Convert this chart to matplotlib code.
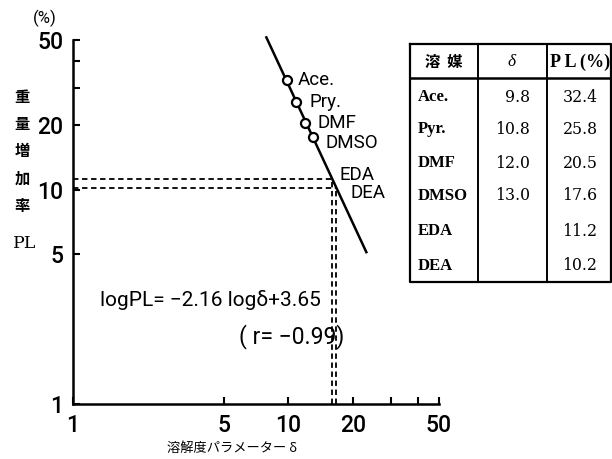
"""Weight gain PL vs. solubility parameter delta (log-log) with solvent table."""

import matplotlib
matplotlib.use("Agg")
import matplotlib.pyplot as plt
import numpy as np
from matplotlib.lines import Line2D
from matplotlib.ticker import FixedLocator, NullFormatter

# --- data -------------------------------------------------------------------
SOLVENTS = ["Ace.", "Pyr.", "DMF", "DMSO", "EDA", "DEA"]
DELTA = [9.8, 10.8, 12.0, 13.0]          # measured solubility parameters
PL = [32.4, 25.8, 20.5, 17.6, 11.2, 10.2]  # weight gain (%)
POINT_LABELS = ["Ace.", "Pry.", "DMF", "DMSO"]
SLOPE, INTERCEPT = -2.16, 3.65            # log PL = SLOPE log d + INTERCEPT
LINE_RANGE = [7.9, 23.0]                   # extent of the fitted line
AMINES_PL = PL[4:]                         # EDA, DEA (delta)
XTICKS = [1, 5, 10, 20, 50]
YTICKS = [1, 5, 10, 20, 50]
MINOR = [30, 40]

W, H = 612, 459


def fx(px):
    return px / W


def fy(py):
    return 1 - py / H


def fit(d):
    return 10 ** (SLOPE * np.log10(d) + INTERCEPT)


def inv_fit(p):
    return 10 ** ((np.log10(p) - INTERCEPT) / SLOPE)


fig = plt.figure(figsize=(W / 100, H / 100), dpi=100)
ax = fig.add_axes([fx(73), fy(404), fx(439) - fx(73), fy(40) - fy(404)])
ax.set_xscale("log")
ax.set_yscale("log")
ax.set_xlim(1, 50)
ax.set_ylim(1, 50)
for s in ("top", "right"):
    ax.spines[s].set_visible(False)
for s in ("left", "bottom"):
    ax.spines[s].set_linewidth(1.8)

ax.xaxis.set_major_locator(FixedLocator(XTICKS))
ax.yaxis.set_major_locator(FixedLocator(YTICKS))
ax.xaxis.set_minor_locator(FixedLocator(MINOR))
ax.yaxis.set_minor_locator(FixedLocator(MINOR))
ax.xaxis.set_minor_formatter(NullFormatter())
ax.yaxis.set_minor_formatter(NullFormatter())
ax.set_xticklabels([str(t) for t in XTICKS])
ax.set_yticklabels([str(t) for t in YTICKS])
ax.tick_params(which="both", direction="in", length=5, width=1.5, pad=7)
for lab in ax.get_xticklabels() + ax.get_yticklabels():
    lab.set_fontweight("medium")
    lab.set_family(["Roboto", "DejaVu Sans"])
ax.tick_params(labelsize=16.5)

# fitted line
xl = np.array(LINE_RANGE)
ax.plot(xl, fit(xl), color="black", lw=1.8, clip_on=False, zorder=3)

# measured points
ax.plot(DELTA, PL[:4], "o", ms=6.5, mfc="white", mec="black", mew=1.6, zorder=4)
offsets = [(8, 0), (10, 0), (9, 0), (9, -4)]
for d, p, lab, off in zip(DELTA, PL[:4], POINT_LABELS, offsets):
    ax.annotate(lab, (d, p), xytext=off, textcoords="offset points",
                ha="left", va="center", fontsize=13.5, family=["Roboto"])

# amines: dashed read-off lines
amine_offsets = [(5, 3), (10, -4)]
for p, lab, off in zip(AMINES_PL, SOLVENTS[4:], amine_offsets):
    d = inv_fit(p)
    ax.plot([1, d], [p, p], color="black", lw=1.3, ls=(0, (3, 2)))
    ax.plot([d, d], [1, p], color="black", lw=1.3, ls=(0, (3, 2)))
    ax.annotate(lab, (d, p), xytext=off, textcoords="offset points",
                ha="left", va="center", fontsize=13.5, family=["Roboto"])

fig.text(fx(100), fy(300), "logPL= \u22122.16 log\u03b4+3.65", fontsize=15,
         ha="left", va="center", family=["Roboto", "DejaVu Sans"])
fig.text(fx(344), fy(337), "( r= \u22120.99)", fontsize=16.5, ha="right",
         va="center", family=["Roboto", "DejaVu Sans"])

# axis labels
fig.text(fx(45), fy(18), "(%)", fontsize=12, ha="center", va="center",
         family=["Roboto", "DejaVu Sans"])
for ch, py in zip("重量増加率", [97, 124, 151, 179, 206]):
    fig.text(fx(22), fy(py), ch, fontsize=11, ha="center", va="center",
             family=["Noto Sans CJK JP"], weight="bold")
fig.text(fx(25), fy(243), "PL", fontsize=12.5, ha="center", va="center",
         family=["DejaVu Serif"])
fig.text(fx(232), fy(448), "溶解度パラメーター δ", fontsize=9.5, ha="center",
         va="center", family=["Noto Sans CJK JP", "DejaVu Serif"])

# --- table ------------------------------------------------------------------
left, right, top, bottom = 410, 611, 44, 282
col1, col2, head = 478, 547, 78
lines = [
    ([left, right, right, left, left], [top, top, bottom, bottom, top], 1.6),
    ([col1, col1], [top, bottom], 1.4),
    ([col2, col2], [top, bottom], 1.4),
    ([left, right], [head, head], 1.8),
]
for xs, ys, lw in lines:
    fig.add_artist(Line2D([fx(v) for v in xs], [fy(v) for v in ys],
                          color="black", lw=lw))

names = ["Liberation Serif", "DejaVu Serif"]
nums = ["DejaVu Serif"]
fig.text(fx(444), fy(62), "溶  媒", fontsize=11, ha="center", va="center",
         family=["Noto Sans CJK JP"], weight="bold")
fig.text(fx(512), fy(62), "δ", fontsize=12.5, ha="center", va="center",
         family=names, style="italic")
fig.text(fx(580), fy(62), "P L (%)", fontsize=13, ha="center", va="center",
         family=names, weight="bold")
row_y = [97, 129, 163, 196, 231, 266]
for i, (name, y) in enumerate(zip(SOLVENTS, row_y)):
    fig.text(fx(418), fy(y), name, fontsize=12, ha="left", va="center",
             family=names, weight="bold")
    if i < len(DELTA):
        fig.text(fx(530), fy(y), f"{DELTA[i]:.1f}", fontsize=11.3, ha="right",
                 va="center", family=nums)
    fig.text(fx(580), fy(y), f"{PL[i]:.1f}", fontsize=11.3, ha="center",
             va="center", family=nums)

fig.savefig("out.png", dpi=100)
